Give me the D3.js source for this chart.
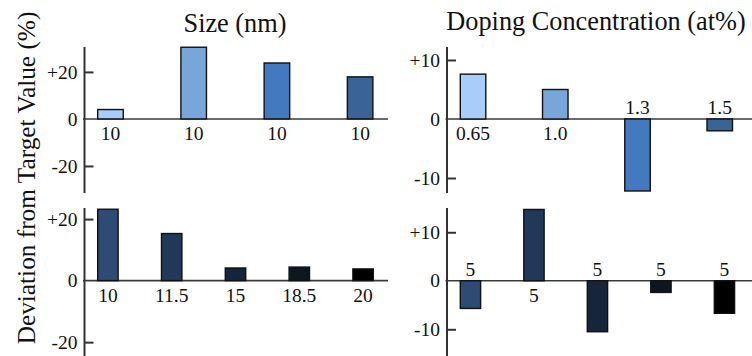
<!DOCTYPE html>
<html>
<head>
<meta charset="utf-8">
<script src="https://cdn.jsdelivr.net/npm/d3@7"></script>
<style>
  html, body { margin: 0; padding: 0; background: #fff; }
  svg { display: block; }
</style>
</head>
<body>
<svg id="chart" width="752" height="356"></svg>
<script>
// ---- data ----
const sizeTopLabels = ["10", "10", "10", "10"];
const sizeTopValues = [4.0, 30.5, 23.8, 17.9];
const sizeTopColors = ["#a7cdfb", "#79a6d9", "#4279bf", "#3b6496"];

const sizeBottomLabels = ["10", "11.5", "15", "18.5", "20"];
const sizeBottomValues = [23.2, 15.3, 4.1, 4.4, 3.8];
const sizeBottomColors = ["#2d4b74", "#21385a", "#17253a", "#0e1620", "#000000"];

const dopingTopLabels = ["0.65", "1.0", "1.3", "1.5"];
const dopingTopValues = [7.6, 5.0, -12.2, -2.0];
const dopingTopColors = ["#a7cdfb", "#79a6d9", "#4279bf", "#3b6496"];

const dopingBottomLabels = ["5", "5", "5", "5", "5"];
const dopingBottomValues = [-5.7, 14.7, -10.5, -2.4, -6.7];
const dopingBottomColors = ["#2d4b74", "#21385a", "#17253a", "#0e1620", "#000000"];

const sizeTicks = [-20, 0, 20];
const dopingTicks = [-10, 0, 10];

const titles = ["Size (nm)", "Doping Concentration (at%)"];
const yTitle = "Deviation from Target Value (%)";

// ---- drawing ----
const FONT = "Liberation Serif";
const svg = d3.select("#chart");
const fmt = v => v > 0 ? "+" + v : String(v);

function label(sel) {
  return sel.attr("font-family", FONT).attr("fill", "#111");
}

function panel(opt) {
  const g = svg.append("g");
  const y = d3.scaleLinear().domain(opt.yDomain).range([opt.yBottom, opt.yTop]);
  const x = d3.scaleBand()
    .domain(d3.range(opt.values.length))
    .range(opt.xRange)
    .paddingInner(opt.padInner)
    .paddingOuter(0);

  // zero baseline
  g.append("line")
    .attr("x1", opt.axisX - 1.5).attr("x2", opt.zeroEnd)
    .attr("y1", y(0)).attr("y2", y(0))
    .attr("stroke", "#3a3a3a").attr("stroke-width", 1.6);

  // bars
  g.selectAll("rect.bar")
    .data(opt.values)
    .join("rect")
    .attr("class", "bar")
    .attr("x", (d, i) => x(i))
    .attr("width", x.bandwidth())
    .attr("y", d => y(Math.max(0, d)))
    .attr("height", d => Math.abs(y(d) - y(0)))
    .attr("fill", (d, i) => opt.colors[i])
    .attr("stroke", "#111")
    .attr("stroke-width", 1.4);

  // category labels: under positive bars, over negative bars
  g.selectAll("text.cat")
    .data(opt.values)
    .join("text")
    .attr("class", "cat")
    .attr("x", (d, i) => x(i) + x.bandwidth() / 2)
    .attr("y", d => d >= 0 ? y(0) + 21.5 : y(0) - 4.5)
    .attr("text-anchor", "middle")
    .attr("font-size", 19.5)
    .call(label)
    .text((d, i) => opt.labels[i]);

  // y axis with inward ticks
  const axis = d3.axisRight(y)
    .tickValues(opt.ticks)
    .tickSize(9)
    .tickFormat("");
  const ag = g.append("g")
    .attr("transform", `translate(${opt.axisX},0)`)
    .call(axis);
  ag.select(".domain").remove();
  ag.selectAll(".tick line").attr("stroke", "#333").attr("stroke-width", 2);
  ag.selectAll(".tick").filter(d => d === 0).select("line").remove();

  g.append("line")
    .attr("x1", opt.axisX).attr("x2", opt.axisX)
    .attr("y1", opt.yTop).attr("y2", opt.yBottom)
    .attr("stroke", "#333").attr("stroke-width", 2);

  g.selectAll("text.tick-label")
    .data(opt.ticks)
    .join("text")
    .attr("class", "tick-label")
    .attr("x", opt.axisX - 7)
    .attr("y", d => y(d))
    .attr("dy", "0.34em")
    .attr("text-anchor", "end")
    .attr("font-size", 19.5)
    .call(label)
    .text(fmt);
}

// scale for each panel: pixel range and the value span it covers
panel({
  values: sizeTopValues, labels: sizeTopLabels, colors: sizeTopColors, ticks: sizeTicks,
  yDomain: [-31.5, 30.6], yTop: 47, yBottom: 193,
  xRange: [97.7, 372.9], padInner: 0.693, axisX: 84.5, zeroEnd: 388
});
panel({
  values: sizeBottomValues, labels: sizeBottomLabels, colors: sizeBottomColors, ticks: sizeTicks,
  yDomain: [-24.5, 23.6], yTop: 208, yBottom: 356,
  xRange: [97.7, 373.3], padInner: 0.68, axisX: 84.5, zeroEnd: 388
});
panel({
  values: dopingTopValues, labels: dopingTopLabels, colors: dopingTopColors, ticks: dopingTicks,
  yDomain: [-12.54, 12.2], yTop: 47, yBottom: 193,
  xRange: [460.3, 732.5], padInner: 0.69, axisX: 447, zeroEnd: 752
});
panel({
  values: dopingBottomValues, labels: dopingBottomLabels, colors: dopingBottomColors, ticks: dopingTicks,
  yDomain: [-15.5, 15.0], yTop: 208, yBottom: 356,
  xRange: [460.3, 734.6], padInner: 0.68, axisX: 447, zeroEnd: 752
});

// column titles
svg.append("text")
  .attr("x", 235).attr("y", 32)
  .attr("text-anchor", "middle").attr("font-size", 26.3)
  .call(label)
  .text(titles[0]);
svg.append("text")
  .attr("x", 596).attr("y", 30)
  .attr("text-anchor", "middle").attr("font-size", 26.3)
  .call(label)
  .text(titles[1]);

// shared y title
svg.append("text")
  .attr("transform", "translate(35,178) rotate(-90)")
  .attr("text-anchor", "middle").attr("font-size", 25.3)
  .call(label)
  .text(yTitle);
</script>
</body>
</html>
